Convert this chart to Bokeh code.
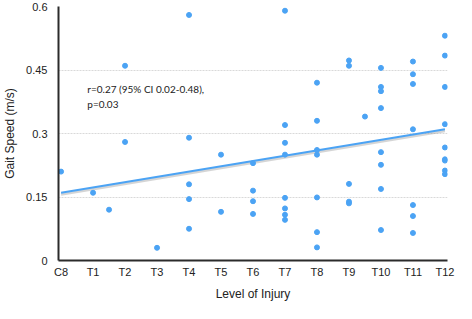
from bokeh.plotting import figure
from bokeh.models import Range1d, FixedTicker, Label
from bokeh.embed import file_html
from bokeh.resources import INLINE

# ---- data ----
tick_positions = [0, 1, 2, 3, 4, 5, 6, 7, 8, 9, 10, 11, 12]
tick_labels = ["C8", "T1", "T2", "T3", "T4", "T5", "T6", "T7", "T8", "T9", "T10", "T11", "T12"]
y_ticks = [0, 0.15, 0.3, 0.45, 0.6]
y_tick_labels = ["0", "0.15", "0.3", "0.45", "0.6"]

injury_level = [0, 1, 1.5, 2, 2, 3,
                4, 4, 4, 4, 4,
                5, 5,
                6, 6, 6, 6,
                7, 7, 7, 7, 7, 7, 7, 7,
                8, 8, 8, 8, 8, 8, 8,
                9, 9, 9, 9, 9,
                9.5,
                10, 10, 10, 10, 10, 10, 10, 10,
                11, 11, 11, 11, 11, 11, 11,
                12, 12, 12, 12, 12, 12, 12, 12, 12]
gait_speed = [0.21, 0.16, 0.12, 0.46, 0.28, 0.03,
              0.58, 0.29, 0.18, 0.145, 0.075,
              0.25, 0.115,
              0.23, 0.165, 0.14, 0.11,
              0.59, 0.32, 0.278, 0.25, 0.148, 0.123, 0.108, 0.096,
              0.42, 0.33, 0.261, 0.25, 0.149, 0.067, 0.031,
              0.4725, 0.46, 0.181, 0.139, 0.135,
              0.34,
              0.455, 0.41, 0.40, 0.36, 0.256, 0.226, 0.169, 0.072,
              0.47, 0.44, 0.417, 0.31, 0.131, 0.105, 0.065,
              0.531, 0.484, 0.41, 0.322, 0.267, 0.239, 0.236, 0.2125, 0.204]

trend_x = [0, 12]
trend_y = [0.160, 0.310]
annotation = "r=0.27 (95% CI 0.02-0.48),\np=0.03"

BLUE = "#4ba3f4"
FONT = "Liberation Sans"

p = figure(width=456, height=303, output_backend="svg", toolbar_location=None,
           x_range=Range1d(-0.08, 12.08), y_range=Range1d(0, 0.6),
           min_border_top=6, min_border_right=9, min_border_left=0, min_border_bottom=0)
p.outline_line_color = None
p.background_fill_color = "white"
p.border_fill_color = "white"

# grid
p.xgrid.grid_line_color = None
p.ygrid.ticker = FixedTicker(ticks=y_ticks)
p.ygrid.grid_line_color = "#d9d9d9"
p.ygrid.grid_line_dash = "2 1"
p.ygrid.grid_line_width = 1

# axes
p.xaxis.ticker = FixedTicker(ticks=tick_positions)
p.xaxis.major_label_overrides = {t: l for t, l in zip(tick_positions, tick_labels)}
p.yaxis.ticker = FixedTicker(ticks=y_ticks)
p.yaxis.major_label_overrides = {t: l for t, l in zip(y_ticks, y_tick_labels)}
for ax in (p.xaxis, p.yaxis):
    ax.axis_line_color = "#2b2b2b"
    ax.axis_line_width = 2
    ax.major_tick_line_color = None
    ax.minor_tick_line_color = None
    ax.major_tick_out = 0
    ax.major_tick_in = 0
    ax.minor_tick_out = 0
    ax.minor_tick_in = 0
    ax.major_label_text_font = FONT
    ax.major_label_text_font_size = "11px"
    ax.major_label_text_color = "#222222"
    ax.axis_label_text_font = FONT
    ax.axis_label_text_font_size = "12px"
    ax.axis_label_text_font_style = "normal"
    ax.axis_label_text_color = "#222222"
p.xaxis.axis_label = "Level of Injury"
p.yaxis.axis_label = "Gait Speed (m/s)"
p.xaxis.major_label_standoff = 5
p.xaxis.axis_label_standoff = 6
p.yaxis.major_label_standoff = 11
p.yaxis.axis_label_standoff = 6

# trend line with soft shadow
shadow_y = [v - 0.004 for v in trend_y]
p.line(trend_x, shadow_y, line_color="#888888", line_width=2.5, line_alpha=0.35)
p.line(trend_x, trend_y, line_color=BLUE, line_width=2.2)

# points
p.scatter(injury_level, gait_speed, size=5, fill_color=BLUE, line_color=BLUE)

lab = Label(x=0.82, y=0.42, text=annotation, text_font="Lato", text_font_size="10px",
            text_color="#222222", text_baseline="top", text_align="left",
            text_line_height=1.3)
p.add_layout(lab)

open("out.html", "w").write(file_html(p, INLINE))
